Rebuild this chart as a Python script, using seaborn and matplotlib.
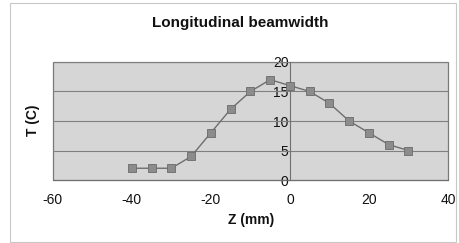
import numpy as np
import pandas as pd
import matplotlib
matplotlib.use("Agg")
import matplotlib.pyplot as plt
import seaborn as sns
from matplotlib.patches import Rectangle

z_mm = [-40, -35, -30, -25, -20, -15, -10, -5, 0, 5, 10, 15, 20, 25, 30]
t_c = [2, 2, 2, 4, 8, 12, 15, 17, 16, 15, 13, 10, 8, 6, 5]

data = pd.DataFrame({"z": z_mm, "t": t_c})

sns.set_style("white")
plt.rcParams["font.family"] = ["Liberation Sans", "DejaVu Sans"]
plt.rcParams["axes.unicode_minus"] = False

fig = plt.figure(figsize=(4.59, 2.43), dpi=100)
ax = fig.add_axes([0.115, 0.259, 0.861, 0.486])

# outer chart frame
fig.patches.append(Rectangle((0.022, 0.004), 0.972, 0.985, transform=fig.transFigure,
                             fill=False, edgecolor="#c8c8c8", linewidth=0.8))

ax.set_facecolor("#d6d6d6")
ax.patch.set_edgecolor("#7a7a7a")
ax.patch.set_linewidth(0.9)

for y in [5, 10, 15, 20]:
    ax.axhline(y, color="#808080", linewidth=0.8, zorder=1)

sns.lineplot(data=data, x="z", y="t", ax=ax, color="#6e6e6e", linewidth=1.0,
             marker="s", markersize=6, markerfacecolor="#8c8c8c",
             markeredgecolor="#6a6a6a", markeredgewidth=0.6, zorder=3)

ax.set_xlim(-60, 40)
ax.set_ylim(0, 20)
ax.set_xticks([-60, -40, -20, 0, 20, 40])
ax.set_yticks([0, 5, 10, 15, 20])

ax.spines["left"].set_position(("data", 0))
ax.spines["left"].set_color("#707070")
ax.spines["left"].set_linewidth(0.8)
ax.spines["bottom"].set_color("#707070")
ax.spines["bottom"].set_linewidth(0.8)
ax.spines["top"].set_visible(False)
ax.spines["right"].set_visible(False)

ax.tick_params(axis="both", labelsize=10, colors="#111111", width=0.8)
ax.tick_params(axis="x", color="#707070", direction="out", length=3, pad=6)
ax.tick_params(axis="y", color="#707070", direction="inout", length=4, pad=-1)

ax.set_xlabel("")
ax.set_ylabel("")
fig.text(0.523, 0.905, "Longitudinal beamwidth", ha="center", va="center",
         fontsize=11, fontweight="bold", color="#111111")
fig.text(0.547, 0.093, "Z (mm)", ha="center", va="center",
         fontsize=10, fontweight="bold", color="#111111")
fig.text(0.072, 0.505, "T (C)", ha="center", va="center", rotation=90,
         fontsize=10, fontweight="bold", color="#111111")

fig.savefig("out.png", dpi=100)
